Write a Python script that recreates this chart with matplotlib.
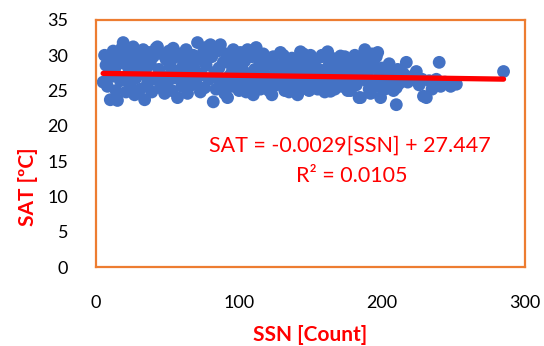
import matplotlib
matplotlib.use("Agg")
import matplotlib.pyplot as plt
import numpy as np

plt.rcParams['font.family'] = ['Lato', 'DejaVu Sans']

ssn = [6, 7, 5, 8, 9, 10, 11, 12, 13, 14, 15, 16, 17, 18, 19, 20, 21, 22, 23, 24,
       25, 26, 27, 28, 29, 30, 31, 32, 33, 34, 35, 36, 37, 38, 39, 40, 41, 42, 43, 44,
       45, 46, 47, 48, 49, 50, 51, 52, 53, 54, 55, 56, 57, 58, 59, 60, 61, 62, 63, 64,
       65, 66, 67, 68, 69, 70, 71, 72, 73, 74, 75, 76, 77, 78, 79, 80, 81, 82, 83, 84,
       85, 86, 87, 88, 89, 90, 91, 92, 93, 94, 95, 96, 97, 98, 99, 100, 101, 102, 103, 104,
       105, 106, 107, 108, 109, 110, 111, 112, 113, 114, 115, 116, 117, 118, 119, 120, 121, 122, 123, 124,
       125, 126, 127, 129, 130, 131, 132, 133, 134, 135, 136, 137, 138, 139, 140, 141, 142, 143, 144, 145,
       146, 147, 148, 149, 150, 151, 152, 153, 154, 155, 156, 157, 158, 160, 161, 162, 163, 164, 165, 166,
       167, 168, 170, 171, 172, 173, 175, 176, 177, 178, 180, 181, 182, 183, 185, 186, 187, 188, 189, 190,
       191, 192, 193, 194, 195, 196, 197, 198, 199, 200, 201, 202, 203, 205, 206, 208, 209, 210, 210, 211,
       213, 215, 217, 218, 221, 224, 226, 228, 231, 233, 235, 238, 240, 241, 244, 248, 252, 285,
       9, 14, 21, 28, 36, 44, 52, 61, 69, 77, 86, 95, 104, 113, 129, 150, 164, 171, 184, 229,
       118, 124, 131, 137, 145, 152, 158, 166, 174, 181, 189, 196, 121, 135, 148, 160, 176, 192, 203, 212]
sat = [30.0, 28.6, 26.2, 25.6, 29.2, 23.7, 27.0, 30.6, 28.0, 25.0, 23.6, 29.6, 26.4, 31.0, 31.8, 28.8, 24.8, 30.2, 27.6, 25.8,
       29.0, 31.2, 24.4, 26.8, 30.0, 28.2, 25.2, 29.6, 30.8, 23.7, 27.2, 26.0, 30.4, 28.8, 24.8, 29.8, 26.6, 31.0, 31.2, 28.0,
       25.4, 30.2, 27.0, 24.6, 29.4, 26.2, 30.6, 28.4, 25.0, 31.0, 26.8, 29.8, 24.0, 27.8, 30.2, 25.6, 28.6, 26.4, 30.8, 24.6,
       29.2, 27.4, 25.8, 30.0, 28.0, 26.0, 31.8, 29.4, 24.8, 27.2, 30.4, 25.4, 28.6, 31.2, 26.6, 31.5, 29.8, 23.4, 27.6, 25.2,
       30.6, 28.2, 31.5, 26.0, 29.0, 24.6, 30.2, 24.0, 27.0, 28.8, 25.6, 30.8, 26.6, 29.6, 27.8, 25.0, 30.4, 28.4, 26.2, 29.2,
       24.8, 30.8, 27.4, 25.8, 29.8, 24.4, 28.0, 31.1, 26.4, 29.4, 25.2, 27.8, 30.2, 26.0, 28.6, 25.4, 29.6, 27.0, 24.4, 26.6,
       28.4, 25.8, 27.6, 30.4, 26.2, 28.8, 25.0, 27.2, 29.2, 25.6, 28.2, 26.8, 25.0, 28.8, 27.4, 24.4, 26.0, 30.5, 29.0, 25.4,
       27.8, 26.4, 29.6, 25.0, 28.4, 26.8, 25.8, 29.2, 27.0, 25.2, 28.0, 26.2, 29.8, 27.4, 25.4, 30.5, 28.6, 26.0, 29.6, 27.0,
       25.2, 28.2, 26.6, 29.0, 25.6, 27.8, 29.4, 26.2, 28.4, 25.0, 27.2, 28.8, 25.8, 26.8, 24.0, 28.0, 29.8, 30.8, 26.4, 27.6,
       25.2, 29.0, 30.2, 26.0, 28.4, 25.6, 30.4, 27.0, 24.0, 28.2, 26.4, 25.2, 27.6, 28.8, 26.0, 25.0, 27.2, 23.0, 25.4, 28.0,
       26.6, 27.4, 29.0, 26.2, 27.0, 27.7, 25.8, 26.6, 24.0, 26.4, 25.2, 26.6, 29.0, 25.6, 26.2, 25.6, 25.9, 27.7,
       27.4, 28.6, 26.8, 29.4, 28.4, 26.8, 29.0, 27.4, 26.8, 29.2, 26.6, 27.6, 25.8, 27.0, 27.4, 30.0, 24.9, 29.9, 24.0, 24.2,
       29.0, 29.8, 30.0, 29.6, 30.2, 29.4, 30.0, 29.2, 29.8, 30.0, 29.4, 29.8, 25.0, 24.8, 25.2, 24.8, 25.0, 24.6, 25.8, 26.0]

trend_slope = -0.0029
trend_intercept = 27.447
equation_text = "SAT = -0.0029[SSN] + 27.447"
r2_text = "R² = 0.0105"

fig = plt.figure(figsize=(5.44, 3.46), dpi=100)
ax = fig.add_axes([96/544, 1-267/346, (525-96)/544, (267-20)/346])

ax.scatter(ssn, sat, s=85, color='#4472C4', edgecolors='none', zorder=2)

tx = np.array([min(ssn), max(ssn)])
ax.plot(tx, trend_intercept + trend_slope*tx, color='#FF0000', lw=3.8, zorder=3,
        solid_capstyle='round')

ax.set_xlim(0, 300)
ax.set_ylim(0, 35)
ax.set_xticks([0, 100, 200, 300])
ax.set_yticks(range(0, 36, 5))
ax.tick_params(length=0, labelsize=13, colors='#000000')
ax.tick_params(axis='x', pad=20)
ax.tick_params(axis='y', pad=20)
for sp in ax.spines.values():
    sp.set_color('#ED7D31')
    sp.set_linewidth(1.6)

ax.text(177.6, 17.2, equation_text, color='#FF0000', fontsize=15.5, ha='center', va='center')
ax.text(178.5, 12.9, r2_text, color='#FF0000', fontsize=15.5, ha='center', va='center')

fig.text(310/544, 1-335/346, "SSN [Count]", color='#FF0000', fontsize=15, fontweight='bold',
         ha='center', va='center')
fig.text(28/544, 1-187/346, "SAT [ºC]", color='#FF0000', fontsize=15, fontweight='bold',
         ha='center', va='center', rotation=90)

fig.savefig("out.png", dpi=100)
